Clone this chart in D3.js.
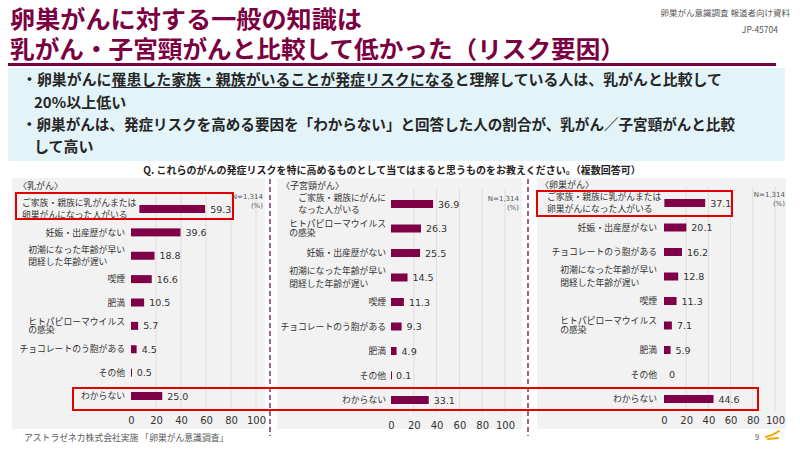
<!DOCTYPE html>
<html>
<head>
<meta charset="utf-8">
<script src="https://cdn.jsdelivr.net/npm/d3@7"></script>
<style>
  html, body { margin: 0; padding: 0; background: #fff; }
  text { font-family: "Noto Sans CJK JP", "Noto Sans", sans-serif; }
  .num { font-family: "DejaVu Sans", Verdana, sans-serif; }
</style>
</head>
<body>
<div id="chart"></div>
<script>
// ---- data ----
const ticks = [0, 20, 40, 60, 80, 100];
const panelTitles = ["〈乳がん〉", "〈子宮頸がん〉", "〈卵巣がん〉"];

const breastLabels = ["ご家族・親族に乳がんまたは|卵巣がんになった人がいる", "妊娠・出産歴がない", "初潮になった年齢が早い|閉経した年齢が遅い", "喫煙", "肥満", "ヒトパピローマウイルス|の感染", "チョコレートのう胞がある", "その他", "わからない"];
const breastValues = [59.3, 39.6, 18.8, 16.6, 10.5, 5.7, 4.5, 0.5, 25.0];

const cervicalLabels = ["ご家族・親族にがんに|なった人がいる", "ヒトパピローマウイルス|の感染", "妊娠・出産歴がない", "初潮になった年齢が早い|閉経した年齢が遅い", "喫煙", "チョコレートのう胞がある", "肥満", "その他", "わからない"];
const cervicalValues = [36.9, 26.3, 25.5, 14.5, 11.3, 9.3, 4.9, 0.1, 33.1];

const ovarianLabels = ["ご家族・親族に乳がんまたは|卵巣がんになった人がいる", "妊娠・出産歴がない", "チョコレートのう胞がある", "初潮になった年齢が早い|閉経した年齢が遅い", "喫煙", "ヒトパピローマウイルス|の感染", "肥満", "その他", "わからない"];
const ovarianValues = [37.1, 20.1, 16.2, 12.8, 11.3, 7.1, 5.9, 0, 44.6];

const sampleNote = "N=1,314";
const unitNote = "(%)";

const width = 800;
const height = 450;
const maroon = "#7b0041";
const barColor = "#800048";

const svg = d3.select("#chart").append("svg")
    .attr("width", width)
    .attr("height", height);

// ---- header ----
svg.append("text")
    .attr("x", 10).attr("y", 28)
    .attr("font-size", 24).attr("font-weight", 700)
    .attr("fill", maroon)
    .attr("textLength", 352).attr("lengthAdjust", "spacingAndGlyphs")
    .text("卵巣がんに対する一般の知識は");

svg.append("text")
    .attr("x", 10).attr("y", 57.5)
    .attr("font-size", 24).attr("font-weight", 700)
    .attr("fill", maroon)
    .attr("textLength", 615).attr("lengthAdjust", "spacingAndGlyphs")
    .text("乳がん・子宮頸がんと比較して低かった（リスク要因）");

svg.append("rect")
    .attr("x", 8).attr("y", 63)
    .attr("width", 768).attr("height", 3)
    .attr("fill", maroon);

svg.append("text")
    .attr("x", 790).attr("y", 16)
    .attr("text-anchor", "end")
    .attr("font-size", 8.5).attr("fill", "#555")
    .text("卵巣がん意識調査 報道者向け資料");

svg.append("text")
    .attr("x", 778).attr("y", 33)
    .attr("text-anchor", "end")
    .attr("font-size", 8.5).attr("fill", "#555")
    .text("JP-45704");

// ---- summary box ----
svg.append("rect")
    .attr("x", 8).attr("y", 68)
    .attr("width", 777).attr("height", 93)
    .attr("fill", "#e3f4f8");

const bullet1 = svg.append("text")
    .attr("x", 22).attr("y", 84.7)
    .attr("font-size", 15).attr("font-weight", 700).attr("fill", "#262626")
    .attr("textLength", 700).attr("lengthAdjust", "spacingAndGlyphs")
    .text("・卵巣がんに罹患した家族・親族がいることが発症リスクになると理解している人は、乳がんと比較して");

// underline "罹患した…なる"
const u0 = bullet1.node().getStartPositionOfChar(6).x;
const u1 = bullet1.node().getEndPositionOfChar(28).x;
svg.append("line")
    .attr("x1", u0).attr("x2", u1)
    .attr("y1", 87.5).attr("y2", 87.5)
    .attr("stroke", "#262626").attr("stroke-width", 1);

svg.append("text")
    .attr("x", 34).attr("y", 107.7)
    .attr("font-size", 15).attr("font-weight", 700).attr("fill", "#262626")
    .text("20%以上低い");

svg.append("text")
    .attr("x", 22).attr("y", 129.7)
    .attr("font-size", 15).attr("font-weight", 700).attr("fill", "#262626")
    .attr("textLength", 713).attr("lengthAdjust", "spacingAndGlyphs")
    .text("・卵巣がんは、発症リスクを高める要因を「わからない」と回答した人の割合が、乳がん／子宮頸がんと比較");

svg.append("text")
    .attr("x", 34).attr("y", 151.7)
    .attr("font-size", 15).attr("font-weight", 700).attr("fill", "#262626")
    .text("して高い");

// ---- question ----
svg.append("text")
    .attr("x", 392).attr("y", 173.5)
    .attr("text-anchor", "middle")
    .attr("font-size", 10).attr("font-weight", 700).attr("fill", "#222")
    .text("Q. これらのがんの発症リスクを特に高めるものとして当てはまると思うものをお教えください。（複数回答可）");

// ---- panels ----
const panels = [
    { title: panelTitles[0], labels: breastLabels, values: breastValues,
      bg: [12, 265], xr: [131, 256], yr: [209, 396], axisY: 420, labelRight: 125,
      titleX: 18, titleY: 189, nX: 263, nY: 199 },
    { title: panelTitles[1], labels: cervicalLabels, values: cervicalValues,
      bg: [277, 522], xr: [391, 505], yr: [204, 400], axisY: 425, labelRight: 386,
      titleX: 281, titleY: 189, nX: 519, nY: 201 },
    { title: panelTitles[2], labels: ovarianLabels, values: ovarianValues,
      bg: [537, 786], xr: [664, 775], yr: [203, 399], axisY: 420, labelRight: 657,
      titleX: 540, titleY: 188, nX: 785, nY: 197 }
];

const panelTop = 178;
const panelBottom = 429;
const barH = 8;
const labelSize = 8.8;
const fmt = v => v === 0 ? "0" : v.toFixed(1);

panels.forEach(p => {
    const g = svg.append("g");

    g.append("rect")
        .attr("x", p.bg[0]).attr("y", panelTop)
        .attr("width", p.bg[1] - p.bg[0]).attr("height", panelBottom - panelTop)
        .attr("fill", "#f2f2f2");

    const x = d3.scaleLinear().domain([0, 100]).range(p.xr);
    const y = d3.scalePoint().domain(p.labels).range(p.yr);

    // gridlines
    g.selectAll(".grid")
        .data(ticks.filter(t => t > 0))
        .join("line")
        .attr("class", "grid")
        .attr("x1", d => x(d)).attr("x2", d => x(d))
        .attr("y1", p.yr[0] - 16).attr("y2", p.yr[1] + 13)
        .attr("stroke", "#dedede").attr("stroke-width", 1);

    // bars
    g.selectAll(".bar")
        .data(p.values)
        .join("rect")
        .attr("class", "bar")
        .attr("x", x(0))
        .attr("y", (d, i) => y(p.labels[i]) - barH / 2)
        .attr("width", d => d > 0 ? Math.max(1, x(d) - x(0)) : 0)
        .attr("height", barH)
        .attr("fill", barColor);

    // value labels
    g.selectAll(".val")
        .data(p.values)
        .join("text")
        .attr("class", "val num")
        .attr("x", d => x(d) + 5)
        .attr("y", (d, i) => y(p.labels[i]) + 3.5)
        .attr("font-size", 9.5).attr("fill", "#333")
        .text(fmt);

    // category labels
    p.labels.forEach(label => {
        const lines = label.split("|");
        const cy = y(label);
        if (lines.length === 1) {
            g.append("text")
                .attr("x", p.labelRight).attr("y", cy + 3.2)
                .attr("text-anchor", "end")
                .attr("font-size", labelSize).attr("fill", "#333")
                .text(label);
            return;
        }
        const gap = lines[1] === "の感染" ? 8.5 : 12.5;
        const lg = g.append("g");
        const bgRect = lg.append("rect").attr("fill", "#f2f2f2");
        const texts = lines.map((t, i) => lg.append("text")
            .attr("y", cy - (lines.length - 1) * gap / 2 + i * gap + 3.2)
            .attr("font-size", labelSize).attr("fill", "#333")
            .text(t));
        const w = d3.max(texts, t => t.node().getComputedTextLength());
        const left = Math.max(p.bg[0] + 10, p.labelRight - w);
        texts.forEach(t => t.attr("x", left));
        bgRect.attr("x", left - 2).attr("y", cy - 14)
            .attr("width", w + 5).attr("height", 26);
    });

    // axis
    const axis = g.append("g")
        .attr("transform", `translate(0, ${p.axisY - 3.6})`)
        .call(d3.axisBottom(x).tickValues(ticks).tickSize(0).tickPadding(0));
    axis.select(".domain").remove();
    axis.selectAll("text")
        .attr("class", "num")
        .attr("font-size", 10)
        .attr("fill", "#333");

    // panel title and notes
    g.append("text")
        .attr("x", p.titleX).attr("y", p.titleY)
        .attr("font-size", 9).attr("fill", "#333")
        .text(p.title);

    g.append("text")
        .attr("class", "num")
        .attr("x", p.nX).attr("y", p.nY)
        .attr("text-anchor", "end")
        .attr("font-size", 7).attr("fill", "#555")
        .text(sampleNote);

    g.append("text")
        .attr("class", "num")
        .attr("x", p.nX).attr("y", p.nY + 8.5)
        .attr("text-anchor", "end")
        .attr("font-size", 7).attr("fill", "#555")
        .text(unitNote);
});

// dashed separators
[270, 528].forEach(sx => {
    svg.append("line")
        .attr("x1", sx).attr("x2", sx)
        .attr("y1", 179).attr("y2", 436)
        .attr("stroke", "#a0628e").attr("stroke-width", 2)
        .attr("stroke-dasharray", "5,3");
});

// highlight boxes
const highlights = [
    { x: 16, y: 193, w: 217, h: 26 },
    { x: 537, y: 191, w: 195, h: 25 },
    { x: 73, y: 388, w: 685, h: 22 }
];
svg.selectAll(".hl")
    .data(highlights)
    .join("rect")
    .attr("class", "hl")
    .attr("x", d => d.x).attr("y", d => d.y)
    .attr("width", d => d.w).attr("height", d => d.h)
    .attr("fill", "none")
    .attr("stroke", "#e00000").attr("stroke-width", 2);

// ---- footer ----
svg.append("text")
    .attr("x", 24).attr("y", 440.5)
    .attr("font-size", 8.8).attr("fill", "#595959")
    .text("アストラゼネカ株式会社実施 「卵巣がん意識調査」");

svg.append("text")
    .attr("x", 755).attr("y", 440)
    .attr("font-size", 7.5).attr("fill", "#555")
    .text("9");

svg.append("path")
    .attr("d", "M766,437 C770,436 775,434 779,431 M768,439 C771,438.5 775,438.5 778,438")
    .attr("fill", "none")
    .attr("stroke", "#f0a500").attr("stroke-width", 2)
    .attr("stroke-linecap", "round");
</script>
</body>
</html>
